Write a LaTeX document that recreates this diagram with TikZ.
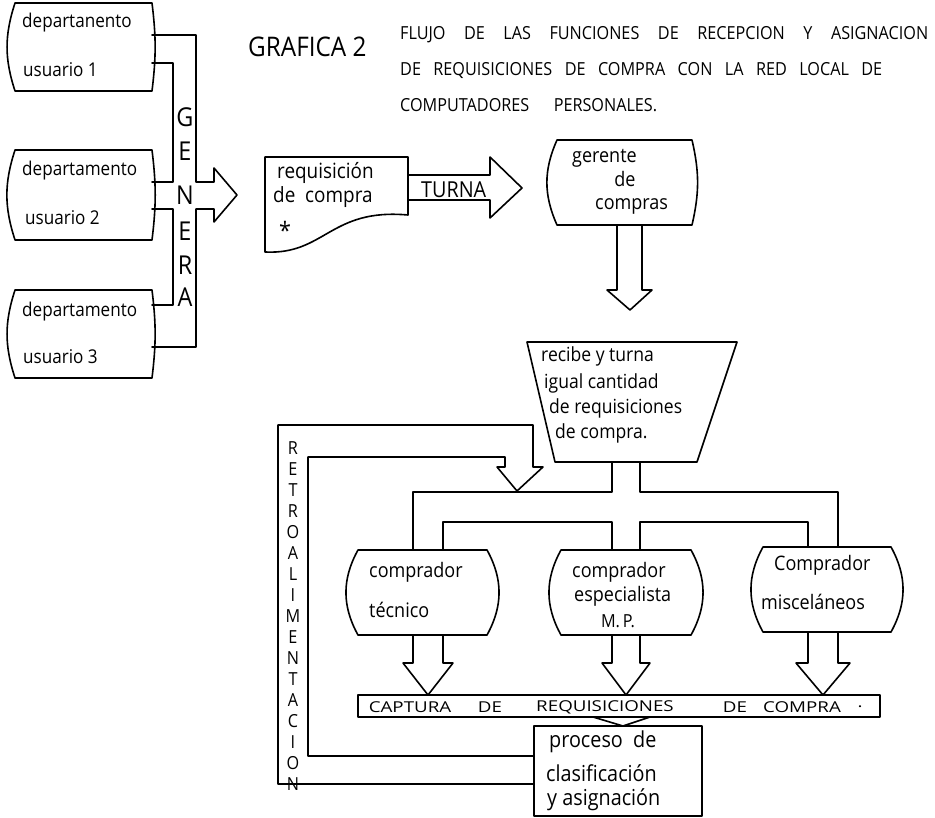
\documentclass[tikz,border=0pt]{standalone}
\usepackage{fontspec}
\setmainfont{Open Sans}[FakeStretch=0.9]
\newfontfamily\widefont{Open Sans}[FakeStretch=1.25]
\usetikzlibrary{calc}

% outline of a box whose left and right sides bow outwards
\newcommand\barrelbox[3]{%
  \draw[ln] (#1.north west) -- (#1.north east) to[bend left=#3] (#1.south east)
    -- (#1.south west) to[bend left=#2] (#1.north west) -- cycle;}

\tikzset{
  ln/.style={line width=1.6pt, line join=round, line cap=round},
  frame/.style={draw=none, inner sep=0pt, outer sep=0pt},
  lbl/.style={inner sep=0pt, anchor=west},
  sz/.style={font=\fontsize{#1}{#1}\selectfont},
  bar/.style={inner sep=0pt, font=\widefont\fontsize{15}{15}\selectfont},
}

\begin{document}
\begin{tikzpicture}[x=1pt, y=-1pt]
\useasboundingbox[fill=white] (0,0) rectangle (935,818);

% ---------- title ----------
\node[lbl, sz=27] (titA) at (248,47) {GRAFICA 2};
\node[lbl, sz=18] (titB) at (400,35) {\makebox[528pt][s]{FLUJO DE LAS FUNCIONES DE RECEPCION Y ASIGNACION}};
\node[lbl, sz=18] (titC) at (400,71) {\makebox[482pt][s]{DE REQUISICIONES DE COMPRA CON LA RED LOCAL DE}};
\node[lbl, sz=18] (titD) at (400,105) {\makebox[257pt][s]{COMPUTADORES PERSONALES.}};

% ---------- departments ----------
\node[frame, minimum width=137pt, minimum height=88pt] (dep1) at (83.5,47) {};
\node[frame, minimum width=137pt, minimum height=90pt] (dep2) at (83.5,195) {};
\node[frame, minimum width=137pt, minimum height=88pt] (dep3) at (83.5,334) {};
\barrelbox{dep1}{18}{7}
\barrelbox{dep2}{18}{7}
\barrelbox{dep3}{18}{7}
\node[lbl, sz=19] (d1a) at (22,23) {departanento};
\node[lbl, sz=19] (d1b) at (23,70) {usuario 1};
\node[lbl, sz=19] (d2a) at (22,171) {departamento};
\node[lbl, sz=19] (d2b) at (25,218) {usuario 2};
\node[lbl, sz=19] (d3a) at (22,312) {departamento};
\node[lbl, sz=19] (d3b) at (23,357) {usuario 3};

% ---------- GENERA conduit ----------
\coordinate (gtip) at (237,195);
\draw[ln] (dep1.east |- 0,35) -| (196,182) -- (214,182) -- (214,168) -- (gtip)
  -- (214,222) -- (214,209) -- (196,209) |- (dep3.east |- 0,347);
\draw[ln] (dep1.east |- 0,63) -| (173,182) -- (dep2.east |- 0,182);
\draw[ln] (dep2.east |- 0,209) -| (173,305) -- (dep3.east |- 0,305);
\foreach \ch/\yy [count=\i] in {G/117,E/151,N/195,E/231,R/265,A/297}
  \node[sz=26, inner sep=0pt] (gen\i) at (185,\yy) {\ch};

% ---------- requisition document ----------
\node[frame, minimum width=143pt, minimum height=95pt] (req) at (336.5,204.5) {};
\draw[ln] (req.north west) -- (req.north east) -- (req.east |- 0,215)
  .. controls (330,208) and (325,255) .. (req.south west) -- cycle;
\node[lbl, sz=21] (reqa) at (277,173) {requisición};
\node[lbl, sz=21] (reqb) at (273,197) {de\ \ compra};
\node[sz=24, inner sep=0pt] (reqc) at (285,230) {*};

% ---------- TURNA arrow ----------
\coordinate (ttip) at (522,188);
\draw[ln] (req.east |- 0,175) -- (490,175) -- (490,157) -- (ttip)
  -- (490,218) -- (490,200) -- (req.east |- 0,200);
\node[lbl, sz=22] (turna) at (421,190) {TURNA};

% ---------- purchasing manager ----------
\node[frame, minimum width=135pt, minimum height=85pt] (ger) at (624.5,182.5) {};
\barrelbox{ger}{24}{13}
\node[lbl, sz=20] (gera) at (572,158) {gerente};
\node[sz=20, inner sep=0pt] (gerb) at (625,179) {de};
\node[lbl, sz=20] (gerc) at (595,206) {compras};
\coordinate (gdown) at (630,310);
\draw[ln] (617,0 |- ger.south) -- (617,290) -- (607,290) -- (gdown)
  -- (652,290) -- (642,290) -- (642,0 |- ger.south);

% ---------- distribution trapezoid ----------
\coordinate (tr1) at (527,342);
\coordinate (tr2) at (737,342);
\coordinate (tr3) at (697,462);
\coordinate (tr4) at (555,462);
\draw[ln] (tr1) -- (tr2) -- (tr3) -- (tr4) -- cycle;
\node[lbl, sz=19.5] (tra) at (541,356) {recibe y turna};
\node[lbl, sz=19.5] (trb) at (544,383) {igual cantidad};
\node[lbl, sz=19.5] (trc) at (549,408) {de requisiciones};
\node[lbl, sz=19.5] (trd) at (555,433) {de compra.};

% ---------- buyers ----------
\node[frame, minimum width=129pt, minimum height=85pt] (tec) at (422.5,592.5) {};
\node[frame, minimum width=130pt, minimum height=85pt] (esp) at (626,592.5) {};
\node[frame, minimum width=128pt, minimum height=85pt] (mis) at (827,589.5) {};
\barrelbox{tec}{29}{29}
\barrelbox{esp}{29}{29}
\barrelbox{mis}{29}{29}
\node[lbl, sz=20] (teca) at (369,572) {comprador};
\node[lbl, sz=20] (tecb) at (369,610) {técnico};
\node[lbl, sz=20] (espa) at (572,572) {comprador};
\node[lbl, sz=20] (espb) at (574,596) {especialista};
\node[sz=18, inner sep=0pt] (espc) at (618,621) {M.\,P.};
\node[lbl, sz=20] (misa) at (774,565) {Comprador};
\node[lbl, sz=20] (misb) at (761,602) {misceláneos};

% ---------- branching conduit to the buyers ----------
\draw[ln] (612,462) -- (612,492) -- (413,492) -- (413,0 |- tec.north);
\draw[ln] (640,462) -- (640,492) -- (838,492) -- (838,0 |- mis.north);
\draw[ln] (443,0 |- tec.north) -- (443,522) -- (612,522) -- (612,0 |- esp.north);
\draw[ln] (640,0 |- esp.north) -- (640,522) -- (808,522) -- (808,0 |- mis.north);

% ---------- capture bar ----------
\node[frame, draw, ln, minimum width=522pt, minimum height=22pt] (cap) at (619,706) {};
\node[bar] (cw1) at (410,707) {CAPTURA};
\node[bar] (cw2) at (490,707) {DE};
\node[bar] (cw3) at (605,707) {REQUISICIONES};
\node[bar] (cw4) at (735,707) {DE};
\node[bar] (cw5) at (802,707) {COMPRA};
\node[bar] (cw6) at (860,707) {.};

% ---------- arrows from buyers into the bar ----------
\draw[ln] (413,0 |- tec.south) -- (413,663) -- (403,663) -- (428,0 |- cap.north)
  -- (453,663) -- (443,663) -- (443,0 |- tec.south);
\draw[ln] (612,0 |- esp.south) -- (612,663) -- (602,663) -- (626,0 |- cap.north)
  -- (650,663) -- (640,663) -- (640,0 |- esp.south);
\draw[ln] (808,0 |- mis.south) -- (808,663) -- (796,663) -- (823,0 |- cap.north)
  -- (850,663) -- (838,663) -- (838,0 |- mis.south);

% ---------- classification process ----------
\node[frame, draw, ln, minimum width=168pt, minimum height=90pt] (proc) at (618,771) {};
\draw[ln] (593,0 |- cap.south) -- (623,0 |- proc.north) -- (650,0 |- cap.south);
\node[lbl, sz=22] (proa) at (549,742) {proceso\ \ de};
\node[lbl, sz=22] (prob) at (546,773) {clasificación};
\node[lbl, sz=22] (proc2) at (547,800) {y asignación};

% ---------- feedback loop ----------
\coordinate (ftip) at (517,491);
\draw[ln] (proc.west |- 0,784) -- (278,784) -- (278,425) -- (533,425) -- (533,467)
  -- (543,467) -- (ftip) -- (497,467) -- (505,467) -- (505,457) -- (308,457)
  -- (308,756) -- (proc.west |- 0,756);
\foreach \ch [count=\i] in {R,E,T,R,O,A,L,I,M,E,N,T,A,C,I,O,N}
  \node[sz=18, inner sep=0pt] (ret\i) at (293,{448+21*(\i-1)}) {\ch};
\end{tikzpicture}
\end{document}
